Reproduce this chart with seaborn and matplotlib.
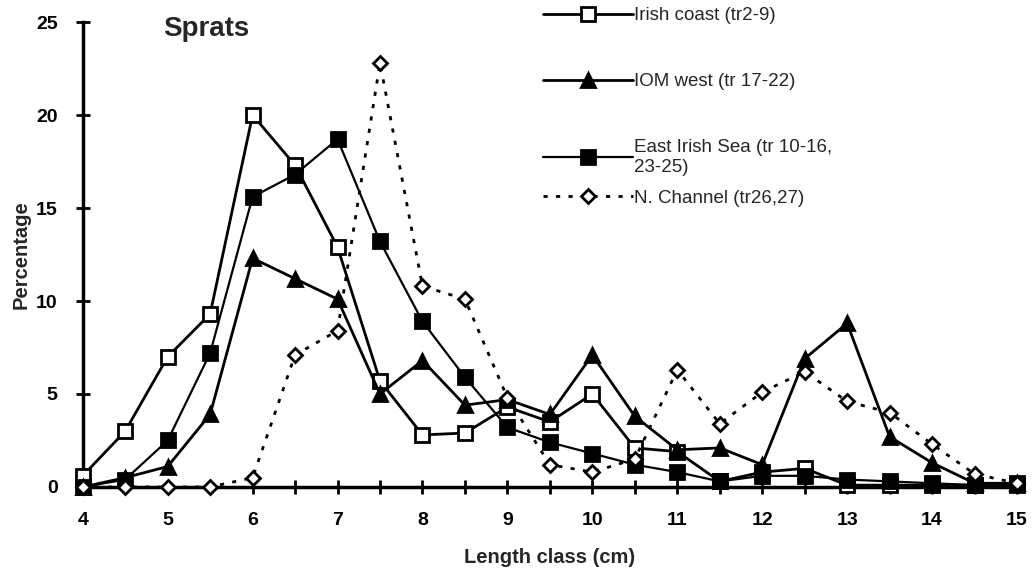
import numpy as np
import matplotlib
matplotlib.use("Agg")
import matplotlib.pyplot as plt
import seaborn as sns

# ---------------- data ---------------- #
length_class = [4, 4.5, 5, 5.5, 6, 6.5, 7, 7.5, 8, 8.5, 9, 9.5, 10, 10.5,
                11, 11.5, 12, 12.5, 13, 13.5, 14, 14.5, 15]

irish_coast = [0.6, 3.0, 7.0, 9.3, 20.0, 17.3, 12.9, 5.7, 2.8, 2.9, 4.3, 3.5,
               5.0, 2.1, 1.9, 0.3, 0.8, 1.0, 0.1, 0.1, 0.1, 0.1, 0.1]
iom_west = [0.0, 0.5, 1.1, 3.9, 12.3, 11.2, 10.1, 5.0, 6.8, 4.4, 4.7, 3.9,
            7.1, 3.8, 2.0, 2.1, 1.2, 6.9, 8.8, 2.7, 1.3, 0.2, 0.2]
east_irish_sea = [0.0, 0.4, 2.5, 7.2, 15.6, 16.8, 18.7, 13.2, 8.9, 5.9, 3.2,
                  2.4, 1.8, 1.2, 0.8, 0.3, 0.6, 0.6, 0.4, 0.3, 0.2, 0.1, 0.2]
n_channel = [0.0, 0.0, 0.0, 0.0, 0.5, 7.1, 8.4, 22.8, 10.8, 10.1, 4.8, 1.2,
             0.8, 1.5, 6.3, 3.4, 5.1, 6.2, 4.6, 4.0, 2.3, 0.7, 0.2]

labels = ["Irish coast (tr2-9)", "IOM west (tr 17-22)",
          "East Irish Sea (tr 10-16,\n23-25)", "N. Channel (tr26,27)"]

# ---------------- plot ---------------- #
sns.set_style("ticks")
plt.rcParams["font.family"] = ["Liberation Sans", "DejaVu Sans"]

fig = plt.figure(figsize=(10.34, 5.74), dpi=100)
ax = fig.add_axes([0.080, 0.1516, 0.9036, 0.81])

# values, marker, face colour, line style, line width
series = [
    (irish_coast, "s", "white", "-", 2),
    (iom_west, "^", "black", "-", 2),
    (east_irish_sea, "s", "black", "-", 1.6),
    (n_channel, "D", "white", (0, (1.5, 3)), 2),
]

for (vals, mk, fc, ls, lw), lab in zip(series, labels):
    sns.lineplot(x=length_class, y=vals, ax=ax, color="black", lw=lw,
                 linestyle=ls, marker=mk, markersize=9.5 if mk != "D" else 7.5,
                 markerfacecolor=fc, markeredgecolor="black",
                 markeredgewidth=2, label=lab, clip_on=False, zorder=3)

ax.set_xlim(4, 15)
ax.set_ylim(0, 25)
xt = np.arange(4, 15.01, 0.5)
ax.set_xticks(xt)
ax.set_xticklabels([str(int(v)) if v == int(v) else "" for v in xt])
ax.set_yticks([0, 5, 10, 15, 20, 25])

for s in ["top", "right"]:
    ax.spines[s].set_visible(False)
for s in ["left", "bottom"]:
    ax.spines[s].set_linewidth(2.5)
    ax.spines[s].set_color("black")

ax.tick_params(axis="both", direction="inout", length=10, width=2, colors="black",
               labelsize=14)
ax.tick_params(axis="x", pad=13)
ax.tick_params(axis="y", pad=13)
for t in ax.get_xticklabels() + ax.get_yticklabels():
    t.set_fontweight("bold")

ax.set_xlabel("Length class (cm)", fontsize=14.5, fontweight="bold", labelpad=14)
ax.set_ylabel("Percentage", fontsize=14.5, fontweight="bold", labelpad=4)

ax.text(4.95, 24.6, "Sprats", fontsize=20, fontweight="bold", va="center")

handles, labs = ax.get_legend_handles_labels()
leg_kw = dict(frameon=False, fontsize=13.5, handlelength=4.8,
              handletextpad=0.05, borderpad=0, borderaxespad=0)
leg1 = ax.legend(handles[:3], labs[:3], loc="upper left",
                 bbox_to_anchor=(0.493, 1.032), labelspacing=2.6, **leg_kw)
ax.add_artist(leg1)
ax.legend(handles[3:], labs[3:], loc="upper left",
          bbox_to_anchor=(0.493, 0.639), **leg_kw)

fig.savefig("out.png", dpi=100)
